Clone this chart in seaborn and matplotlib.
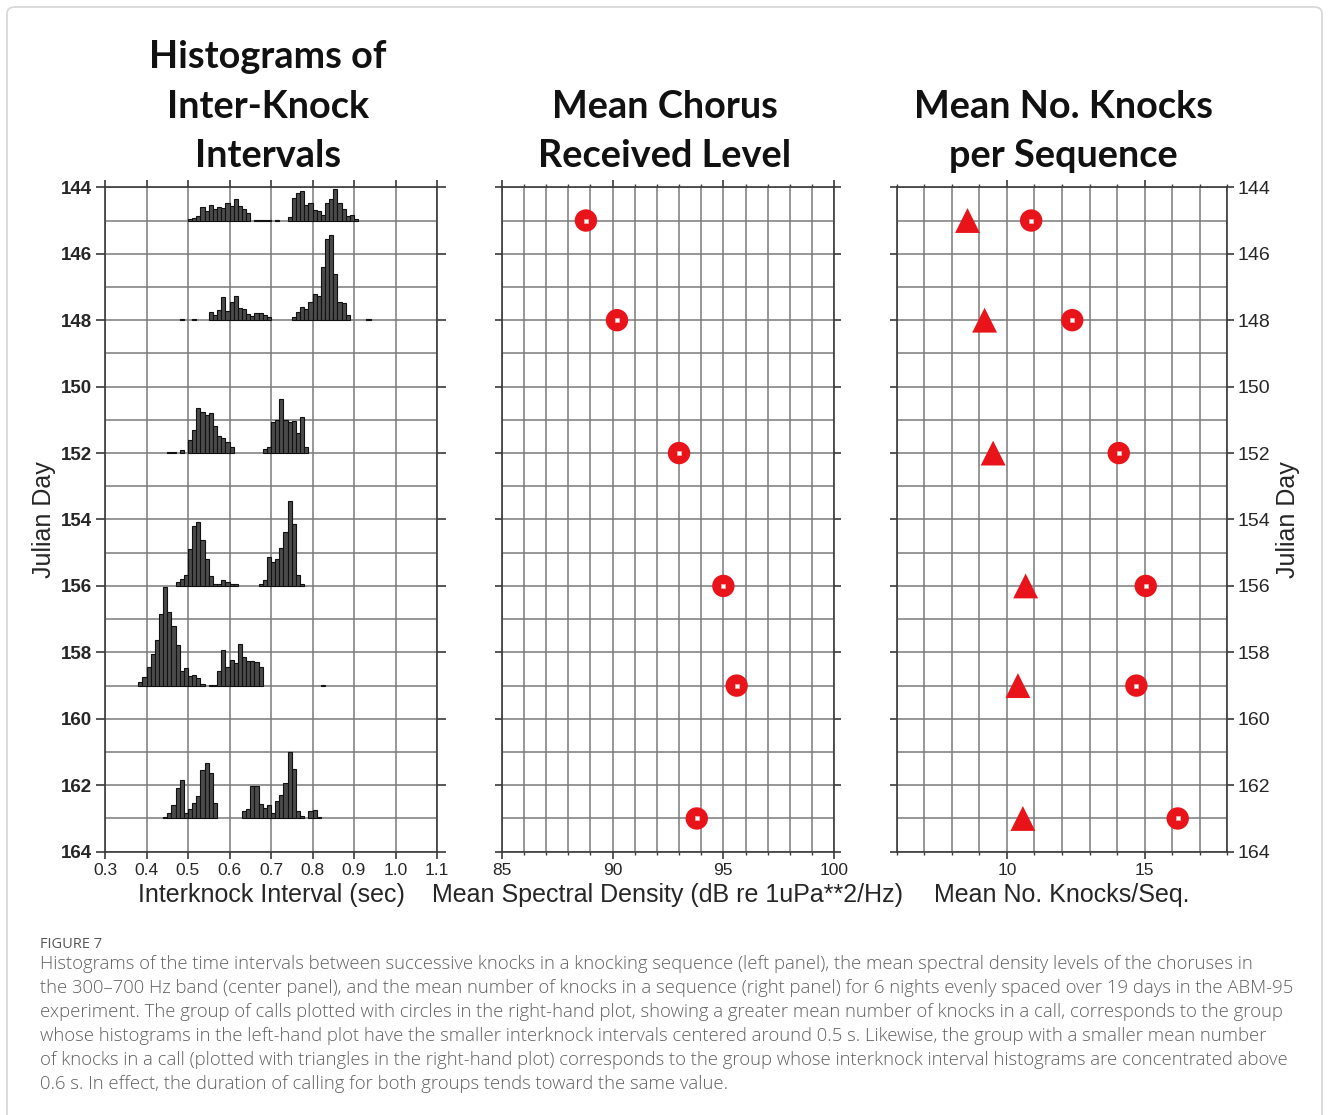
import numpy as np
import pandas as pd
import matplotlib
matplotlib.use("Agg")
import matplotlib.pyplot as plt
import seaborn as sns
from matplotlib.ticker import MultipleLocator, FixedLocator
from matplotlib.patches import FancyBboxPatch

# ---------------- data ----------------
hist_days = [145, 148, 152, 156, 159, 163]
bin_width = 0.01

hist145_start = 0.50
hist145_heights = [0.05, 0.08, 0.13, 0.41, 0.29, 0.46, 0.36, 0.41, 0.39, 0.54,
                   0.43, 0.64, 0.43, 0.36, 0.24, 0.0, 0.02, 0.02, 0.02, 0.02,
                   0.0, 0.02, 0.0, 0.0, 0.11, 0.69, 0.84, 0.89, 0.46, 0.53,
                   0.31, 0.28, 0.18, 0.54, 0.64, 0.94, 0.53, 0.34, 0.13, 0.16, 0.06]

hist148_start = 0.48
hist148_heights = [0.03, 0.0, 0.0, 0.03, 0.0, 0.0, 0.0, 0.26, 0.16, 0.31,
                   0.71, 0.28, 0.56, 0.74, 0.36, 0.33, 0.18, 0.13, 0.21, 0.21,
                   0.15, 0.09, 0.0, 0.0, 0.0, 0.0, 0.0, 0.11, 0.26, 0.41,
                   0.33, 0.56, 0.79, 0.74, 1.59, 2.43, 2.56, 1.38, 0.56, 0.53,
                   0.16, 0.0, 0.0, 0.0, 0.0, 0.03]

hist152_start = 0.45
hist152_heights = [0.03, 0.03, 0.0, 0.10, 0.0, 0.39, 0.69, 1.36, 1.24, 1.14,
                   1.22, 0.82, 0.52, 0.44, 0.34, 0.17, 0.0, 0.0, 0.0, 0.0,
                   0.0, 0.0, 0.0, 0.11, 0.19, 0.94, 1.01, 1.62, 1.01, 0.92,
                   0.97, 0.59, 1.09, 0.17]

hist156_start = 0.47
hist156_heights = [0.11, 0.21, 0.33, 1.10, 1.80, 1.93, 1.38, 0.82, 0.30, 0.07,
                   0.07, 0.18, 0.11, 0.07, 0.06, 0.0, 0.0, 0.0, 0.0, 0.0,
                   0.07, 0.18, 0.88, 0.73, 0.80, 1.13, 1.63, 2.56, 1.85, 0.33, 0.06]

hist159_start = 0.38
hist159_heights = [0.10, 0.27, 0.55, 0.95, 1.38, 2.15, 2.96, 2.23, 1.78, 1.22,
                   0.45, 0.52, 0.30, 0.33, 0.22, 0.05, 0.0, 0.03, 0.03, 0.45,
                   1.08, 0.55, 0.78, 0.67, 1.25, 0.85, 0.73, 0.73, 0.70, 0.55,
                   0.0, 0.0, 0.0, 0.0, 0.0, 0.0, 0.0, 0.0, 0.0, 0.0,
                   0.0, 0.0, 0.0, 0.0, 0.03]

hist163_start = 0.44
hist163_heights = [0.05, 0.15, 0.40, 0.92, 1.15, 0.15, 0.30, 0.48, 0.67, 1.45,
                   1.67, 1.37, 0.48, 0.0, 0.0, 0.0, 0.0, 0.0, 0.0, 0.23,
                   0.30, 0.97, 0.97, 0.45, 0.33, 0.40, 0.17, 0.53, 0.70, 1.07,
                   2.00, 1.50, 0.23, 0.07, 0.0, 0.23, 0.27, 0.05]

hist_starts = [hist145_start, hist148_start, hist152_start,
               hist156_start, hist159_start, hist163_start]
hist_heights = [hist145_heights, hist148_heights, hist152_heights,
                hist156_heights, hist159_heights, hist163_heights]

chorus_days = [145, 148, 152, 156, 159, 163]
chorus_level = [88.8, 90.2, 93.0, 95.0, 95.6, 93.8]

knock_days = [145, 148, 152, 156, 159, 163]
knocks_triangle = [8.57, 9.19, 9.5, 10.68, 10.4, 10.58]
knocks_circle = [10.88, 12.37, 14.06, 15.04, 14.7, 16.2]

x1_ticks = [0.3, 0.4, 0.5, 0.6, 0.7, 0.8, 0.9, 1.0, 1.1]
x1_labels = ["0.3", "0.4", "0.5", "0.6", "0.7", "0.8", "0.9", "1.0", "1.1"]
x2_ticks = [85, 90, 95, 100]
x3_ticks = [10, 15]
day_ticks = [144, 146, 148, 150, 152, 154, 156, 158, 160, 162, 164]

titles = [["Histograms of", "Inter-Knock", "Intervals"],
          ["Mean Chorus", "Received Level"],
          ["Mean No. Knocks", "per Sequence"]]
xlabels = ["Interknock Interval (sec)",
           "Mean Spectral Density (dB re 1uPa**2/Hz)",
           "Mean No. Knocks/Seq."]
caption_head = "FIGURE 7"
caption_lines = [
    "Histograms of the time intervals between successive knocks in a knocking sequence (left panel), the mean spectral density levels of the choruses in",
    "the 300\u2013700 Hz band (center panel), and the mean number of knocks in a sequence (right panel) for 6 nights evenly spaced over 19 days in the ABM-95",
    "experiment. The group of calls plotted with circles in the right-hand plot, showing a greater mean number of knocks in a call, corresponds to the group",
    "whose histograms in the left-hand plot have the smaller interknock intervals centered around 0.5 s. Likewise, the group with a smaller mean number",
    "of knocks in a call (plotted with triangles in the right-hand plot) corresponds to the group whose interknock interval histograms are concentrated above",
    "0.6 s. In effect, the duration of calling for both groups tends toward the same value.",
]

# ---------------- style ----------------
sns.set_style("white")
plt.rcParams["font.family"] = ["Liberation Sans", "DejaVu Sans"]

W, H = 1329, 1115
fig = plt.figure(figsize=(W / 100, H / 100), dpi=100)

RED = "#e8141a"
GRID = "#7a7a7a"
SPINE = "#3a3a3a"

top_px, bot_px = 187.3, 851.7
ax_h = (bot_px - top_px) / H
ax_y = 1 - bot_px / H
ax1 = fig.add_axes([105 / W, ax_y, 332 / W, ax_h])
ax2 = fig.add_axes([501.7 / W, ax_y, 332.5 / W, ax_h])
ax3 = fig.add_axes([896.7 / W, ax_y, 330.6 / W, ax_h])

for ax in (ax1, ax2, ax3):
    ax.set_ylim(164, 144)
    ax.yaxis.set_major_locator(FixedLocator(day_ticks))
    ax.yaxis.set_minor_locator(MultipleLocator(1))
    ax.set_axisbelow(True)
    ax.grid(True, which="both", axis="both", color=GRID, linewidth=1.1)
    for s in ax.spines.values():
        s.set_color(SPINE)
        s.set_linewidth(1.2)
    ax.tick_params(which="major", direction="out", length=5, width=1.2,
                   color=SPINE, labelsize=12.5, pad=3,
                   top=True, right=True, left=True, bottom=True)
    ax.tick_params(which="minor", direction="out", length=2, width=1.0,
                   color=SPINE, top=True, bottom=True, left=False, right=False)

# ----- left panel: histograms -----
for day, start, heights in zip(hist_days, hist_starts, hist_heights):
    lefts = [start + i * bin_width for i, h in enumerate(heights) if h > 0]
    hs = [-h for h in heights if h > 0]
    ax1.bar(lefts, hs, width=bin_width, bottom=day, align="edge",
            color="#4b4b4b", edgecolor="#111111", linewidth=0.8, zorder=3)
ax1.set_xlim(0.3, 1.1)
ax1.set_xticks(x1_ticks)
ax1.set_xticklabels(x1_labels)
ax1.xaxis.set_minor_locator(MultipleLocator(0.1))
ax1.tick_params(axis="x", which="minor", length=0)
ax1.tick_params(axis="y", which="major", length=6.5, labelsize=13.5, pad=3,
                labelleft=True, labelright=False)
for t in ax1.get_yticklabels():
    t.set_fontweight("bold")
ax1.set_ylabel("Julian Day", fontsize=18)
ax1.yaxis.set_label_coords((56 - 105) / 332, 0.5)

# ----- center panel -----
df2 = pd.DataFrame({"level": chorus_level, "day": chorus_days})
sns.scatterplot(data=df2, x="level", y="day", ax=ax2, s=260, color=RED,
                edgecolor="none", zorder=4, legend=False)
sns.scatterplot(data=df2, x="level", y="day", ax=ax2, s=7, marker="s",
                color="white", edgecolor="#f3b0b0", linewidth=0.5, zorder=5,
                legend=False)
ax2.set_xlim(85, 100)
ax2.set_ylim(164, 144)
ax2.set_xticks(x2_ticks)
ax2.xaxis.set_minor_locator(MultipleLocator(1))
ax2.tick_params(axis="y", labelleft=False, labelright=False)
ax2.set_ylabel("")

# ----- right panel -----
df3 = pd.DataFrame({"day": knock_days, "tri": knocks_triangle, "circ": knocks_circle})
sns.scatterplot(data=df3, x="tri", y="day", ax=ax3, s=320, marker="^",
                color=RED, edgecolor="none", zorder=4, legend=False)
sns.scatterplot(data=df3, x="circ", y="day", ax=ax3, s=260, color=RED,
                edgecolor="none", zorder=4, legend=False)
sns.scatterplot(data=df3, x="circ", y="day", ax=ax3, s=7, marker="s",
                color="white", edgecolor="#f3b0b0", linewidth=0.5, zorder=5,
                legend=False)
ax3.set_xlim(6, 18)
ax3.set_ylim(164, 144)
ax3.set_xticks(x3_ticks)
ax3.xaxis.set_minor_locator(MultipleLocator(1))
ax3.tick_params(axis="y", labelleft=False, labelright=True, labelsize=14, pad=2)
ax3.yaxis.set_label_position("right")
ax3.set_ylabel("Julian Day", fontsize=18)
ax3.yaxis.set_label_coords((1276 - 896.7) / 330.6, 0.5)

for ax, lab in zip((ax1, ax2, ax3), xlabels):
    ax.set_xlabel(lab, fontsize=18, labelpad=4)

# ----- titles -----
title_x = [268, 665, 1063.5]
title_baselines = [[68, 118, 167], [118, 167], [118, 167]]
for tx, lines, bls in zip(title_x, titles, title_baselines):
    for line, bl in zip(lines, bls):
        fig.text(tx / W, 1 - bl / H, line, ha="center", va="baseline",
                 fontsize=27.3, fontweight="bold", family=["Lato", "DejaVu Sans"],
                 color="#111111")

# ----- caption -----
fig.text(40 / W, 1 - 944 / H, caption_head, ha="left", va="center",
         fontsize=10.5, color="#555555", family=["Open Sans", "DejaVu Sans"])
for i, line in enumerate(caption_lines):
    fig.text(40 / W, 1 - (964 + 24 * i) / H, line, ha="left", va="center",
             fontsize=13.35, color="#606060", fontweight="light",
             family=["Open Sans", "DejaVu Sans"])

# ----- outer border -----
border = FancyBboxPatch((7 / W, -0.05), (1322 - 7) / W, 1.05 - 7 / H,
                        boxstyle="round,pad=0,rounding_size=0.006",
                        transform=fig.transFigure, fill=False,
                        edgecolor="#d6d6d6", linewidth=1.2)
fig.patches.append(border)

fig.savefig("out.png", dpi=100)
